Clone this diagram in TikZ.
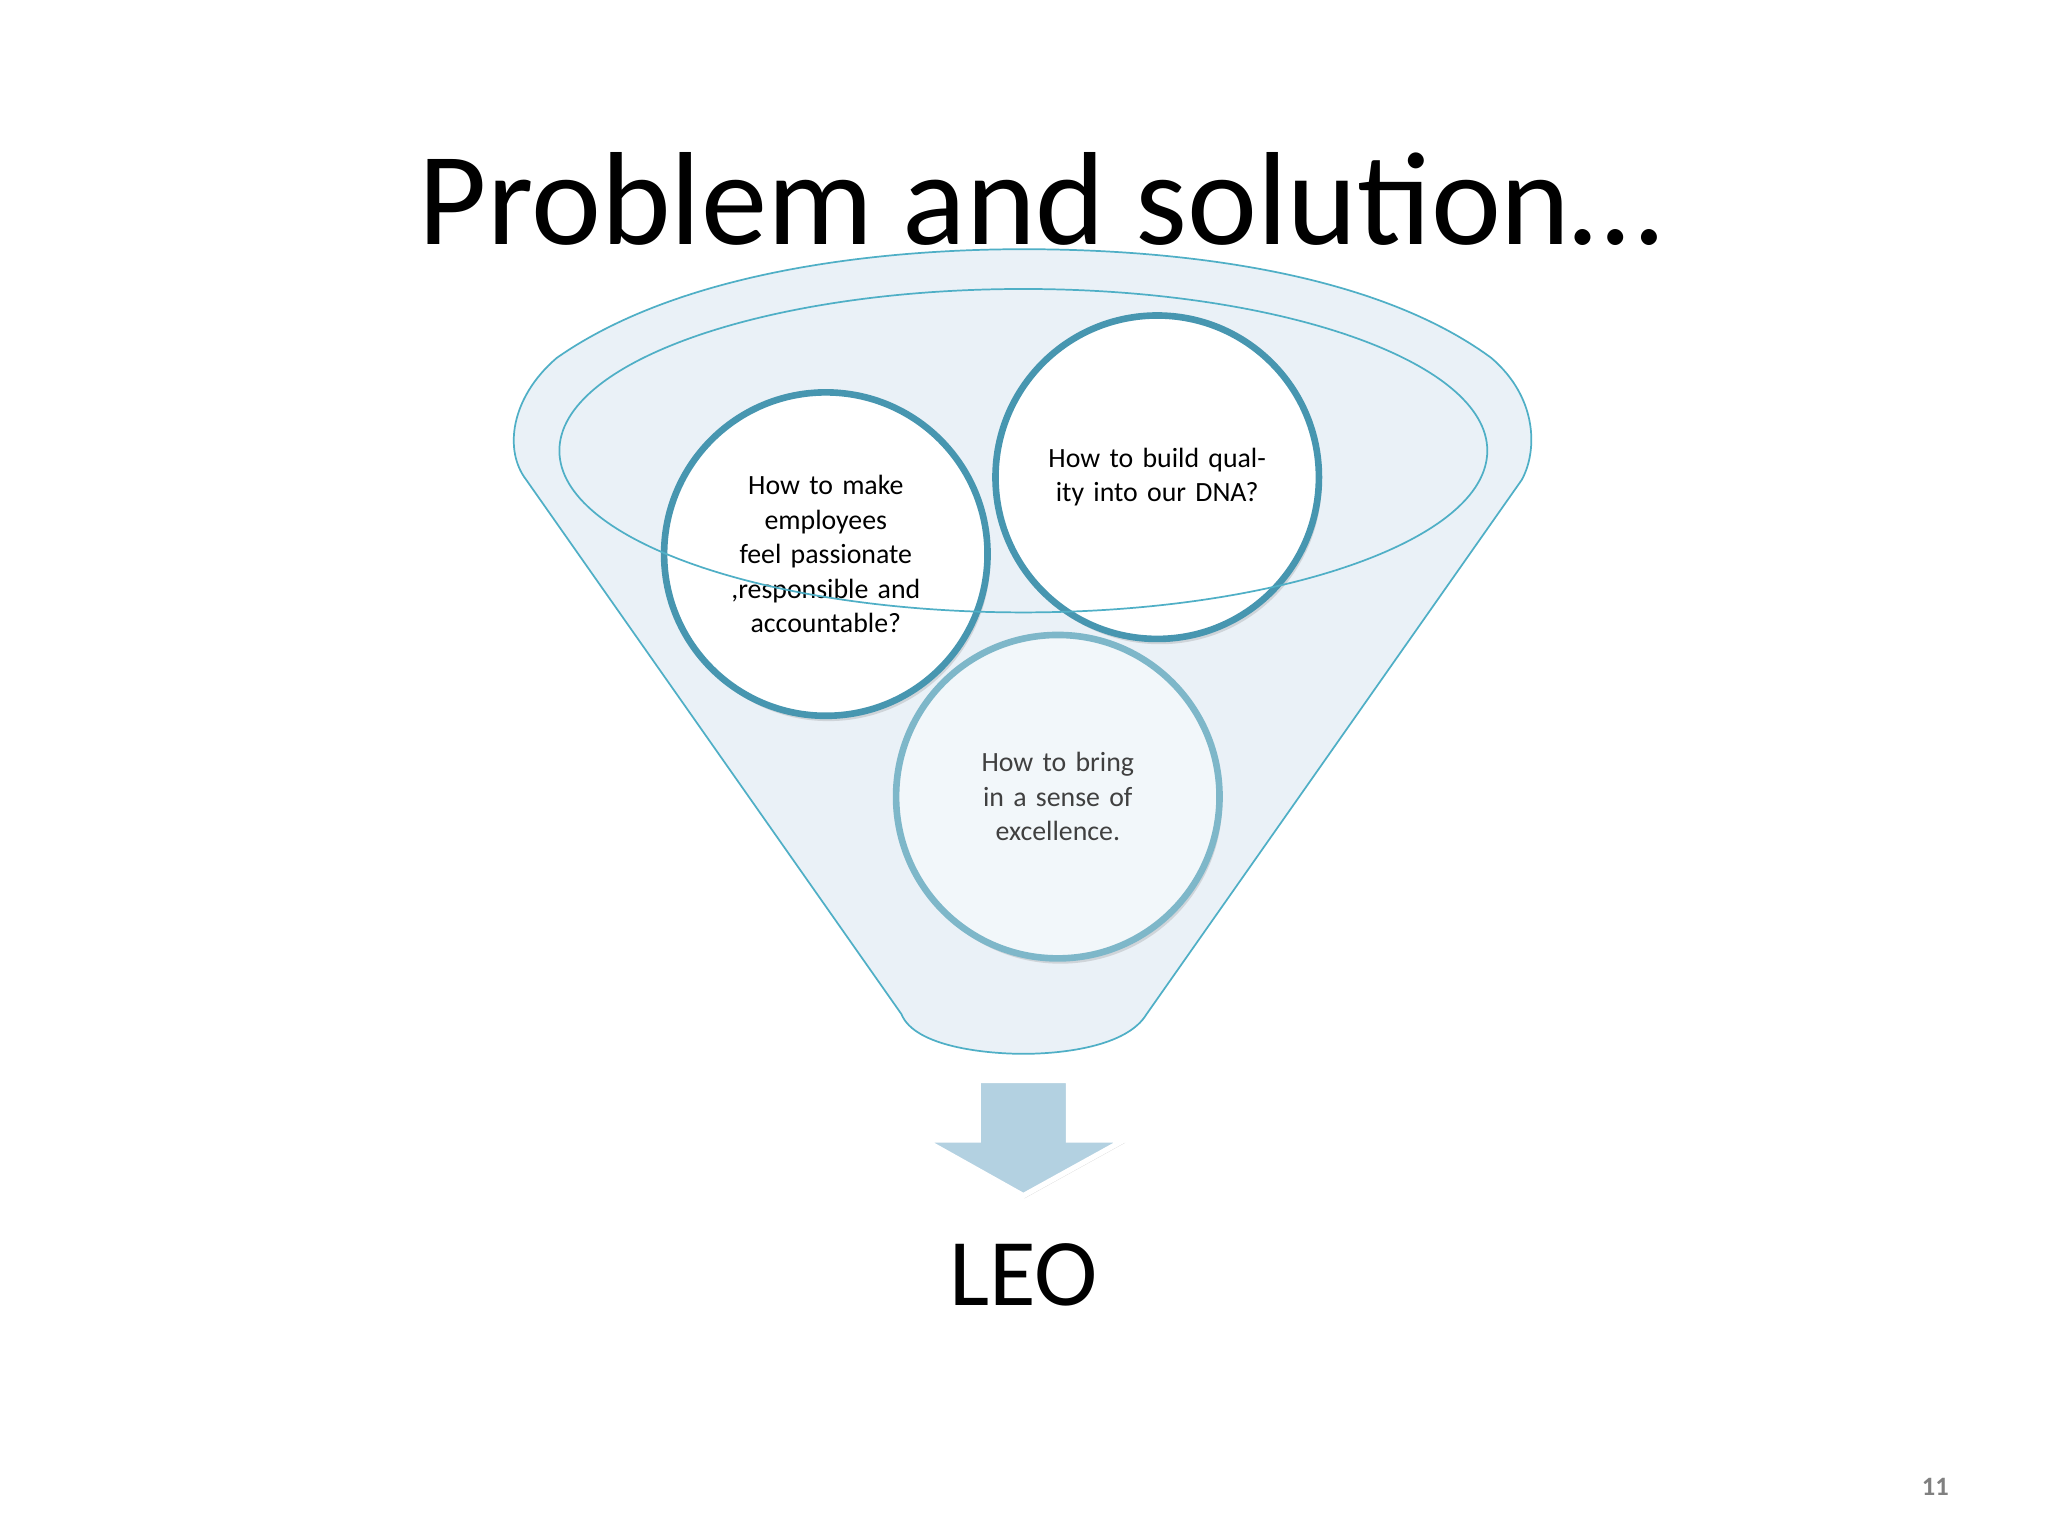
\documentclass[tikz,border=0pt]{standalone}
\usepackage{fontspec}
\setmainfont{Carlito}
\usetikzlibrary{shadows}
\definecolor{fun}{HTML}{4FAFC6}
\definecolor{funfill}{HTML}{EAF1F7}
\definecolor{ringA}{HTML}{4796B0}
\definecolor{ringC}{HTML}{7EB7C9}
\definecolor{arrowfill}{HTML}{B3D1E1}
\tikzset{
  ring/.style={circle,minimum size=244pt,line width=5pt,align=center,font=\fontsize{21}{26}\selectfont,inner sep=0pt,text width=170pt},
}
\begin{document}
\begin{tikzpicture}[x=1pt,y=-1pt]
\useasboundingbox (0,0) rectangle (1545,1159);
\fill[white] (0,0) rectangle (1545,1159);
\node (title) at (785,150) {\fontsize{100}{110}\selectfont Problem and solution…};
% funnel
\draw[fun,line width=1.3pt,fill=funfill] (397,362) .. controls (380,340) and (385,300) .. (420,270)
  .. controls (520,200) and (680,188) .. (772,188) .. controls (870,188) and (1030,200) .. (1125,270)
  .. controls (1160,300) and (1160,340) .. (1148,362) -- (865,765)
  .. controls (850,790) and (800,795) .. (772,795) .. controls (745,795) and (690,790) .. (680,765) -- cycle;
\node[ring,draw=ringA,fill=white,drop shadow={opacity=0.25,shadow xshift=2pt,shadow yshift=-4pt}] (A) at (623,418) {How to make employees feel passionate ,responsible and accountable?};
\node[ring,draw=ringA,fill=white,drop shadow={opacity=0.25,shadow xshift=2pt,shadow yshift=-4pt},yshift=0pt] (B) at (873,360) {How to build quality into our DNA?\\[22pt]};
\draw[fun,line width=1.3pt] (772,340) ellipse [x radius=350pt, y radius=122pt];
\node[ring,draw=ringC,fill=funfill!60!white,text=black!75,drop shadow={opacity=0.25,shadow xshift=2pt,shadow yshift=-4pt}] (C) at (798,601) {How to bring in a sense of excellence.};
% arrow
\draw[white,line width=4pt,fill=arrowfill,drop shadow={opacity=0.3,shadow xshift=1pt,shadow yshift=-2pt}] (738,815) -- (806,815) -- (806,860) -- (848,860) -- (772,902) -- (697,860) -- (738,860) -- cycle;
\node (leo) at (772,962) {\fontsize{72}{80}\selectfont LEO};
\node[text=black!50] (pg) at (1460,1122) {\fontsize{20}{24}\selectfont\bfseries 11};
\end{tikzpicture}
\end{document}
